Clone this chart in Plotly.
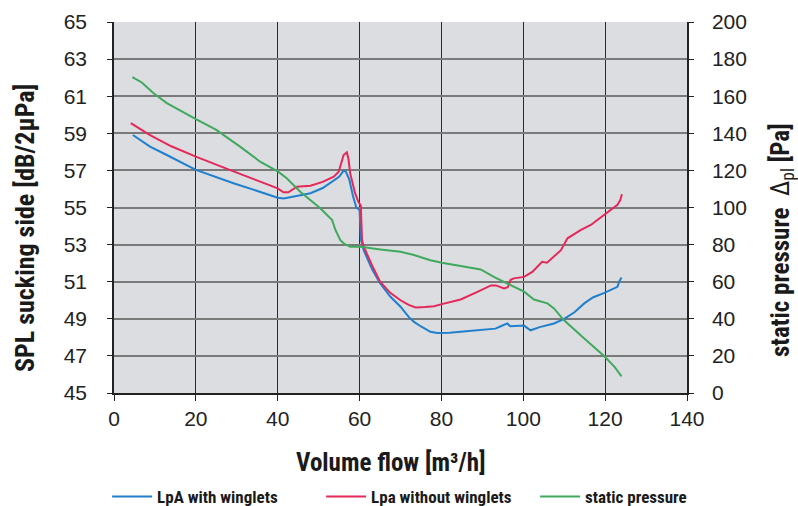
import plotly.graph_objects as go

# Volume flow [m3/h] and values
blue_x = [4.6, 8.8, 12.9, 20, 29.2, 40, 41.5, 44, 48, 51, 53.7, 55, 56.1, 56.6, 57.5, 58.4, 59.2, 60.0,
          60.3, 61, 63, 65, 67.5, 70, 72, 73.3, 74.9, 77.3, 79, 82, 86, 90, 93.2, 94.5, 96.1, 96.8, 97.7,
          100.2, 101, 101.8, 104, 107.5, 110, 112.5, 114.9, 117, 119.8, 122, 123, 123.4, 124]
blue_y = [58.91, 58.28, 57.83, 57.03, 56.31, 55.53, 55.48, 55.58, 55.77, 56.05, 56.43, 56.65, 56.99, 56.95,
          56.5, 55.6, 55.0, 54.87, 53.3, 52.7, 51.7, 50.92, 50.2, 49.65, 49.1, 48.83, 48.6, 48.3, 48.24,
          48.25, 48.33, 48.4, 48.47, 48.6, 48.75, 48.6, 48.6, 48.64, 48.5, 48.38, 48.55, 48.75, 49.0, 49.35,
          49.83, 50.15, 50.4, 50.6, 50.72, 50.99, 51.23]

red_x = [4.1, 8.7, 14, 20, 29.2, 40, 41.4, 42.6, 44.7, 48, 51, 53.7, 54.9, 55.3, 56.1, 56.9, 57.3, 57.7,
         58.9, 59.7, 60.3, 60.6, 61, 63, 65, 67.5, 70, 72, 73.7, 76, 78.2, 80.1, 84.7, 88.8, 92.1, 93.3,
         95.3, 96.2, 96.9, 97.7, 100.2, 102.2, 104.6, 105.8, 107.5, 109.2, 110.8, 114.1, 116.5, 119.8,
         123, 123.7, 124.1]
red_y = [59.55, 58.91, 58.3, 57.74, 56.95, 56.03, 55.82, 55.82, 56.12, 56.17, 56.38, 56.66, 56.93, 57.2,
         57.83, 57.98, 57.6, 56.85, 55.77, 55.31, 55.1, 53.25, 52.9, 51.9, 51.0, 50.4, 50.0, 49.75, 49.61,
         49.63, 49.68, 49.79, 50.04, 50.45, 50.8, 50.8, 50.64, 50.7, 51.1, 51.18, 51.26, 51.53, 52.07,
         52.02, 52.34, 52.7, 53.34, 53.79, 54.06, 54.6, 55.14, 55.4, 55.71]

green_x = [4.5, 6.8, 9.6, 12.9, 20, 25, 30.8, 35.7, 40.1, 42.2, 45.5, 50.4, 53.3, 54.1, 55.3, 56.1, 57.7,
           60.2, 65.1, 70, 73.3, 77.3, 80.1, 85, 89.6, 92.8, 96.9, 100.2, 102.6, 105.9, 107.5, 109.9,
           114.9, 119.8, 122.3, 124]
green_y = [170.3, 167.4, 161.7, 156.3, 147.6, 141.8, 132.8, 124.7, 119.3, 115.8, 108.5, 99.6, 93.2, 87.9,
           82.4, 80.7, 78.8, 78.8, 77.4, 76.1, 74.4, 71.6, 70.2, 68.4, 66.6, 62.6, 58.2, 54.6, 50.4, 48.3,
           45.6, 39.3, 29.4, 19.8, 14.1, 9.0]

x_ticks = [0, 20, 40, 60, 80, 100, 120, 140]
left_ticks = [45, 47, 49, 51, 53, 55, 57, 59, 61, 63, 65]
right_ticks = [0, 20, 40, 60, 80, 100, 120, 140, 160, 180, 200]

names = ["LpA with winglets", "Lpa without winglets", "static pressure"]
colors = ["#1f7fcf", "#e5285a", "#3fa95e"]

x_title = "<b>Volume flow [m³/h]</b>"
left_title = "<b>SPL sucking side [dB/2µPa]</b>"
right_title = "<b>static pressure</b>  Δ<sub>pl</sub> <b>[Pa]</b>"

TICK_FONT = dict(family="Liberation Sans, Arial, sans-serif", size=21, color="#222222")
BOLD = "Liberation Sans Narrow, Arial Narrow, Roboto Condensed, Liberation Sans, sans-serif"

fig = go.Figure()
fig.add_trace(go.Scatter(x=blue_x, y=blue_y, mode="lines", name=names[0],
                         line=dict(color=colors[0], width=2)))
fig.add_trace(go.Scatter(x=red_x, y=red_y, mode="lines", name=names[1],
                         line=dict(color=colors[1], width=2)))
fig.add_trace(go.Scatter(x=green_x, y=green_y, mode="lines", name=names[2], yaxis="y2",
                         line=dict(color=colors[2], width=2)))

fig.update_layout(
    width=798, height=506,
    margin=dict(l=114, r=111, t=22, b=113, autoexpand=False),
    paper_bgcolor="white",
    plot_bgcolor="#dcdde0",
    xaxis=dict(range=[0, 140], tickvals=x_ticks, ticks="outside", ticklen=6, tickcolor="#222",
               showline=True, linecolor="#222", linewidth=1.5,
               showgrid=True, gridcolor="#2a2a2a", gridwidth=1.3, zeroline=False,
               tickfont=TICK_FONT, ticklabelstandoff=0, automargin=False),
    yaxis=dict(range=[45, 65], tickvals=left_ticks, ticks="outside", ticklen=5, tickcolor="#222",
               showline=True, linecolor="#222", linewidth=1.5,
               showgrid=True, gridcolor="#7a7a7a", gridwidth=2, zeroline=False,
               tickfont=TICK_FONT, ticklabelstandoff=16, automargin=False),
    yaxis2=dict(range=[0, 200], tickvals=right_ticks, overlaying="y", side="right",
                ticks="outside", ticklen=5, tickcolor="#222",
                showline=True, linecolor="#222", linewidth=1.5,
                showgrid=False, zeroline=False,
                tickfont=TICK_FONT, ticklabelstandoff=14, automargin=False),
    legend=dict(orientation="h", x=-0.012, xanchor="left",
                y=-0.2803, yanchor="middle",
                font=dict(family=BOLD, size=17, color="#1a1a1a", weight="bold"),
                entrywidth=159, entrywidthmode="pixels", itemwidth=40,
                bgcolor="rgba(0,0,0,0)"),
    showlegend=True,
    annotations=[
        dict(text=x_title, xref="paper", yref="paper", x=0.4834, y=-0.186,
             xanchor="center", yanchor="middle", showarrow=False,
             font=dict(family=BOLD, size=25, color="#1a1a1a")),
        dict(text=left_title, xref="paper", yref="paper", x=-0.1553, y=0.4447,
             xanchor="center", yanchor="middle", showarrow=False, textangle=-90,
             font=dict(family=BOLD, size=26, color="#1a1a1a")),
        dict(text=right_title, xref="paper", yref="paper", x=1.1658, y=0.4124,
             xanchor="center", yanchor="middle", showarrow=False, textangle=-90,
             font=dict(family=BOLD, size=25, color="#1a1a1a")),
    ],
)

fig.write_html("out.html")
